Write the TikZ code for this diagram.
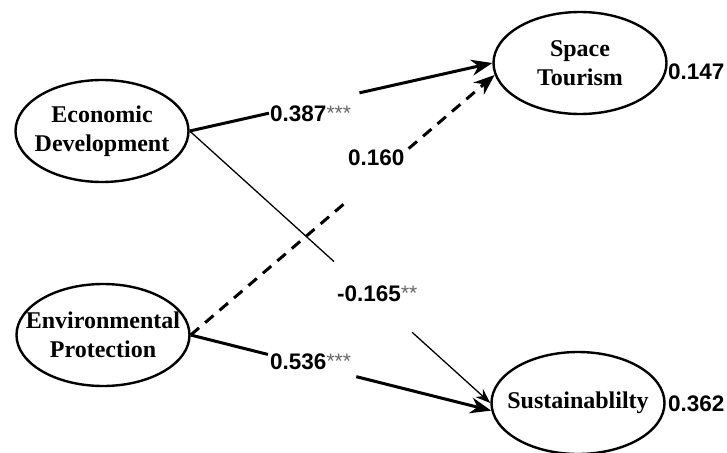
\documentclass[tikz,border=0pt]{standalone}
\usepackage{fontspec}
\setmainfont{Liberation Serif}
\newfontfamily\lblfont{Liberation Sans}
\usetikzlibrary{arrows.meta,shapes.geometric,calc}
\newcommand\sigstars[1]{\raisebox{1pt}{\fontsize{21}{21}\selectfont\mdseries\color{black!60}#1}}
\begin{document}
\begin{tikzpicture}[x=1pt,y=-1pt,
  latent/.style={draw, ellipse, line width=2.4pt, minimum width=173pt, minimum height=102pt, inner sep=0pt},
  nodetext/.style={font=\fontsize{24}{29}\selectfont\bfseries, align=center, inner sep=0pt},
  coef/.style={font=\fontsize{22.5}{22.5}\selectfont\lblfont\bfseries, inner sep=0pt, anchor=base west},
  plainthick/.style={line width=3pt},
  strong/.style={line width=3pt, -{Stealth[length=21pt,width=16pt]}},
  weakline/.style={line width=1.3pt},
  weak/.style={line width=1.3pt, -{Stealth[length=15pt,width=11pt]}},
  nsline/.style={line width=3pt, dash pattern=on 11pt off 8pt},
  nonsig/.style={line width=3pt, dash pattern=on 11pt off 8pt, -{Stealth[length=21pt,width=16pt]}},
]
\useasboundingbox (0,0) rectangle (727,452);

\node[latent, label={[nodetext]center:Economic\\Development}] (econ) at (102,131) {};
\node[latent, label={[nodetext]center:Environmental\\Protection}] (env) at (103,335) {};
\node[latent, label={[nodetext]center:Space\\Tourism}] (space) at (580,63) {};
\node[latent, label={[nodetext]center:Sustainablilty}] (sust) at (578,403) {};

% gap coordinates
\coordinate (a1) at ($(econ.east)!0.262!(space.west)$);
\coordinate (a2) at ($(econ.east)!0.561!(space.west)$);
\coordinate (b1) at ($(env.east)!0.516!(space.188)$);
\coordinate (b2) at ($(env.east)!0.717!(space.188)$);
\coordinate (c1) at ($(econ.east)!0.48!(sust.west)$);
\coordinate (c2) at ($(econ.east)!0.74!(sust.west)$);
\coordinate (d1) at ($(env.east)!0.257!(sust.185)$);
\coordinate (d2) at ($(env.east)!0.551!(sust.185)$);

\draw[plainthick] (econ.east) -- (a1);
\draw[strong] (a2) -- (space.west);
\draw[nsline] (env.east) -- (b1);
\draw[nonsig] (b2) -- (space.188);
\draw[weakline] (econ.east) -- (c1);
\draw[weak] (c2) -- (sust.west);
\draw[plainthick] (env.east) -- (d1);
\draw[strong] (d2) -- (sust.185);

\node[coef] (l387) at (270,121) {0.387\sigstars{***}};
\node[coef] (l160) at (348,165) {0.160};
\node[coef] (l165) at (337,301) {-0.165\sigstars{**}};
\node[coef] (l536) at (270,369) {0.536\sigstars{***}};
\node[coef] (r147) at (668,79) {0.147};
\node[coef] (r362) at (668,411) {0.362};
\end{tikzpicture}
\end{document}
